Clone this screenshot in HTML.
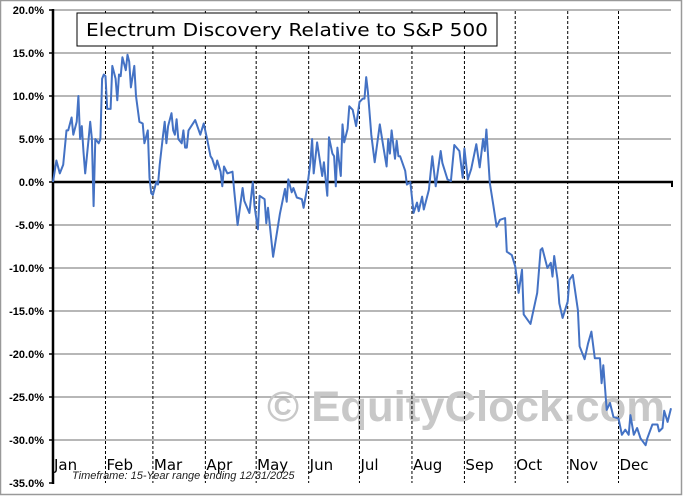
<!DOCTYPE html>
<html><head><meta charset="utf-8"><style>
body{margin:0;background:#fff;}
svg{display:block;font-family:"Liberation Sans",sans-serif;}
</style></head><body>
<svg id="chart" width="683" height="496" viewBox="0 0 683 496" xmlns="http://www.w3.org/2000/svg">
<rect x="0.5" y="0.5" width="681" height="494" fill="#fff" stroke="#999" stroke-width="1.5"/>
<g id="grid"></g>
<text x="267" y="421" font-size="43" font-weight="bold" fill="#c8c8c8" textLength="398" lengthAdjust="spacingAndGlyphs">© EquityClock.com</text>
<g id="months"></g>
<g id="axes"></g>
<path id="series" fill="none" stroke="#4472c4" stroke-width="2" stroke-linejoin="round"/>
<rect x="77" y="13" width="420" height="33" fill="#fff" stroke="#000" stroke-width="1"/>
<text x="287" y="36" font-size="18" text-anchor="middle" fill="#000" style="font-family:'DejaVu Sans',sans-serif" textLength="402" lengthAdjust="spacingAndGlyphs">Electrum Discovery Relative to S&amp;P 500</text>
<text x="72" y="479" font-size="11" font-style="italic" fill="#222">Timeframe:  15-Year range ending 12/31/2025</text>
</svg>
<script>
const monthLabels=["Jan","Feb","Mar","Apr","May","Jun","Jul","Aug","Sep","Oct","Nov","Dec"];
const monthStartDays=[0,31,59,90,120,151,181,212,243,273,304,334];
const yTicks=[20,15,10,5,0,-5,-10,-15,-20,-25,-30,-35];
const days=[0,2,4,6,8,9,11,12,14,15,16,17,18,19,21,22,23,24,25,27,28,29,30,31,32,34,35,37,38,39,40,41,43,44,45,46,48,49,51,53,54,56,57,58,59,61,62,63,65,66,67,68,70,71,72,73,74,76,77,78,79,80,84,87,89,91,93,94,96,97,99,100,101,103,106,107,109,112,113,116,118,119,121,122,125,126,127,130,134,137,138,139,141,142,144,147,148,150,152,153,154,156,159,160,162,163,165,166,167,168,170,171,172,174,175,177,179,181,183,184,185,186,188,190,193,195,197,198,199,200,202,203,204,205,208,209,211,213,215,216,218,219,222,224,226,229,230,233,235,237,240,242,243,245,247,250,252,254,255,256,258,260,262,264,267,268,271,273,275,277,278,282,286,288,289,292,294,295,296,298,299,301,304,305,307,310,311,314,316,318,320,323,324,325,327,329,331,334,336,338,340,341,343,345,347,350,351,354,357,358,360,361,363,365];
const values=[0,2.5,1,2,6,6,7.5,5.5,7,10,5,6.5,3.5,1,5,7,5,-2.8,5,4.5,5,12,12.5,12.3,8.5,8.5,13.5,12,9.5,12.5,12.3,14.5,13,14.8,14,11,13.5,10,7,6.8,4.5,6,0.5,-1.3,-1.5,0,-0.3,2,5.5,7,4.5,6.5,8,6,5.5,7.3,5,4.5,6,4,4,6,7.2,5.5,6.8,5,3,2.7,1.5,2.5,1.2,-0.5,1.8,1,1.2,-1,-5,-0.7,-2.2,-3.6,0,-2.8,-5.5,-1.6,-2,-4.8,-3,-8.7,-3.7,-0.8,-2.3,0.3,-1.2,-0.7,-1.8,-2,-3,-0.8,2.3,5,1,4.6,0.7,2.3,-1.6,5.2,3.3,3,-0.5,4,0.7,6.7,4.6,6.2,8.8,8.4,6.5,9.3,9.7,9.7,12.2,10.5,5.5,2.3,6.7,4.2,1.8,5,3.3,6,2.7,4.8,3,3,1.3,-0.3,0,-3.6,-2.4,-3.4,-1.7,-3.2,-0.9,3,-0.5,3.6,2.2,0.3,0.1,4.3,3.6,0.5,3.9,0.3,1.5,4.4,1.7,5,3.6,6.1,-0.1,-2.6,-5.2,-4.4,-4.2,-8.1,-8.5,-9.8,-12.9,-10.2,-15.4,-16.5,-12.9,-7.9,-7.7,-10,-9.4,-11,-8.6,-11.4,-14.1,-15.8,-13.9,-11.4,-10.8,-14.9,-19.1,-20.6,-18.8,-17.4,-20.5,-20.5,-23.4,-21.3,-26.5,-25.7,-27.3,-27.5,-29.4,-28.8,-29.4,-27.1,-29.4,-28.6,-29.8,-30.6,-29.8,-28.2,-28.2,-29,-28.6,-26.6,-27.9,-26.3];

const X0=53,X1=671,Y0=182,PX=8.6;
const xs=d=>X0+d*(X1-X0)/365;
const ys=v=>Y0-v*PX;
const NS="http://www.w3.org/2000/svg";
function mk(tag,attrs,parent,txt){const e=document.createElementNS(NS,tag);for(const k in attrs)e.setAttribute(k,attrs[k]);if(txt!==undefined)e.textContent=txt;parent.appendChild(e);return e;}
const grid=document.getElementById('grid'),months=document.getElementById('months'),axes=document.getElementById('axes');
yTicks.forEach(t=>{
  if(t!==0&&t!==-35){const l=mk('line',{x1:X0,x2:X1,y1:ys(t),y2:ys(t),stroke:'#8c8c8c','stroke-width':1.3},grid);
  
  }
  const tx=mk('text',{x:44,y:ys(t)+4,'font-size':11,'font-weight':'bold','text-anchor':'end',fill:'#000'},axes,t.toFixed(1)+'%');
  
  
  const tk=mk('line',{x1:X0-4,x2:X0,y1:ys(t),y2:ys(t),stroke:'#000','stroke-width':1.5},axes);
  
  
});
monthLabels.forEach((m,i)=>{
  const x=xs(monthStartDays[i]);
  if(i>0){const l=mk('line',{x1:x,x2:x,y1:11,y2:483,stroke:'#000','stroke-width':1,'stroke-dasharray':'3,2'},months);
  
  }
  const tx=mk('text',{x:x+1,y:470,'font-size':15,fill:'#000',style:"font-family:'DejaVu Sans',sans-serif"},months,m);
  
  
});
const za=mk('line',{x1:X0,x2:X1+2,y1:ys(0),y2:ys(0),stroke:'#000','stroke-width':2.5},axes);


const zt=mk('line',{x1:X1+1,x2:X1+1,y1:ys(0),y2:ys(0)+5,stroke:'#000','stroke-width':2},axes);


const ya=mk('line',{x1:X0,x2:X0,y1:ys(20)-1,y2:ys(-35)+1,stroke:'#000','stroke-width':2.5},axes);


document.getElementById('series').setAttribute('d',days.map((d,i)=>(i?'L':'M')+xs(d).toFixed(1)+','+ys(values[i]).toFixed(1)).join(''));
</script>
</body></html>
